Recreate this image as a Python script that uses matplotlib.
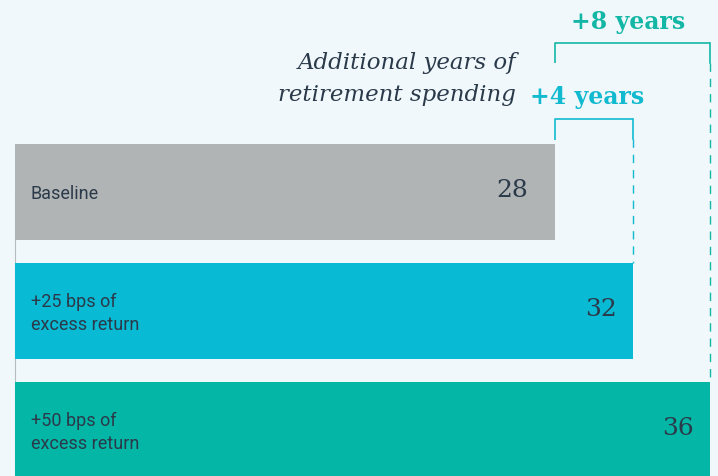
import matplotlib
matplotlib.use("Agg")
import matplotlib.pyplot as plt

categories = ["Baseline", "+25 bps of\nexcess return", "+50 bps of\nexcess return"]
years = [28, 32, 36]
gains = ["+4 years", "+8 years"]
bar_colors = ["#b1b4b4", "#08bad3", "#03b6a6"]
gain_colors = ["#12bad0", "#14b7a6"]
annotation = "Additional years of\nretirement spending"

BG = "#f0f8fb"
TXT = "#2b3a4a"
PX = 19.3  # pixels per year
YPX = 119.0  # pixels per category step

fig = plt.figure(figsize=(7.18, 4.76), dpi=100, facecolor=BG)
ax = fig.add_axes([0, 0, 1, 1])
ax.set_facecolor(BG)
ax.set_xlim(-15 / PX, (718 - 15) / PX)
ax.set_ylim((476 - 192) / YPX, -192 / YPX)
ax.axis("off")

def px2x(p):
    return (p - 15) / PX

def px2y(p):
    return (p - 192) / YPX

ypos = list(range(len(categories)))
# left axis line
ax.plot([0, 0], [0, ypos[-1] + 1], color="#b8bcbc", lw=0.8, zorder=1)
ax.barh(ypos, years, height=96 / YPX, color=bar_colors, zorder=2)

label_pad = [27 / PX, 16 / PX, 16 / PX]
for i, (c, v) in enumerate(zip(categories, years)):
    ax.text(px2x(31), i + 0.02, c, ha="left", va="center", fontsize=13,
            family="Roboto", fontweight="normal", color=TXT,
            linespacing=1.3, zorder=3)
    ax.text(v - label_pad[i], i - 0.01, str(v), ha="right", va="center",
            fontsize=18, family="DejaVu Serif", color=TXT, zorder=3)

# brackets
base = years[0]
tops = [px2y(119), px2y(43)]
label_y = [px2y(97), px2y(22)]
label_dx = [-7 / PX, -4 / PX]
for k, (g, col) in enumerate(zip(gains, gain_colors)):
    end = years[k + 1]
    top = tops[k]
    ax.plot([base, base, end], [px2y(140) if k == 0 else px2y(63), top, top],
            color=col, lw=1.2, solid_capstyle="butt", zorder=3)
    ax.plot([end, end], [top, top + 20 / YPX], color=col, lw=1.2, zorder=3)
    ax.plot([end, end], [top + 20 / YPX, (k + 1) - 48 / YPX], color=col, lw=1.0,
            dashes=(6, 5), zorder=1)
    ax.text((base + end) / 2 + label_dx[k], label_y[k], g, ha="center", va="center",
            fontsize=17, fontweight="bold", family="DejaVu Serif", color=col)

ax.text(px2x(516), px2y(79), annotation, ha="right", va="center",
        fontsize=16.5, style="italic", family="DejaVu Serif", color=TXT,
        linespacing=1.55)

fig.savefig("out.png", dpi=100, facecolor=BG)
